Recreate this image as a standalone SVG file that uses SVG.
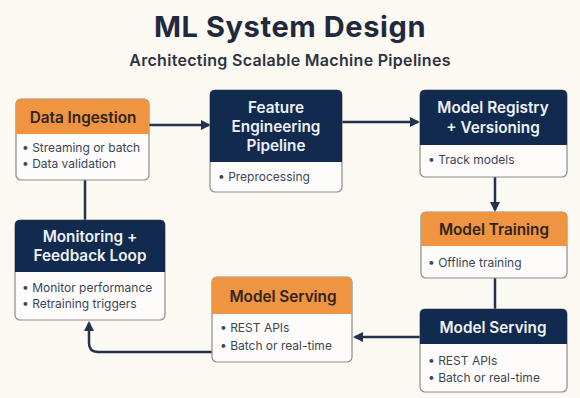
<svg xmlns="http://www.w3.org/2000/svg" width="580" height="398" viewBox="0 0 580 398">
  <style>
    .title { font-family: Inter, "Open Sans", "Liberation Sans", sans-serif; font-weight: 700; font-size: 29px; letter-spacing: 0.6px; fill: #1f2a3c; }
    .subtitle { font-family: Inter, "Open Sans", "Liberation Sans", sans-serif; font-weight: 600; font-size: 16px; letter-spacing: 0.3px; fill: #2e3440; }
    .card { fill: #fdfcfa; stroke: #8c8c8c; stroke-width: 1.2; }
    .hd-orange { fill: #ef9440; }
    .hd-navy { fill: #132a4f; }
    .ht-orange { font-family: Inter, "Open Sans", "Liberation Sans", sans-serif; font-weight: 600; font-size: 15.3px; fill: #2e2418; text-anchor: middle; }
    .ht-navy { font-family: Inter, "Open Sans", "Liberation Sans", sans-serif; font-weight: 600; font-size: 15.3px; fill: #eef2f7; text-anchor: middle; }
    .item { font-family: Inter, "Open Sans", "Liberation Sans", sans-serif; font-size: 12px; fill: #3b4656; }
    .link { fill: none; stroke: #23324d; stroke-width: 2.5; }
  </style>
  <defs>
    <marker id="arrow" viewBox="0 0 10 10" refX="8" refY="5" markerWidth="4" markerHeight="4" orient="auto">
      <path d="M0,0 L10,5 L0,10 z" fill="#23324d"/>
    </marker>
  </defs>

  <rect width="580" height="398" fill="#fcf8f2"/>

  <text class="title" x="290" y="37" text-anchor="middle">ML System Design</text>
  <text class="subtitle" x="290" y="66" text-anchor="middle">Architecting Scalable Machine Pipelines</text>

  <!-- connectors -->
  <g id="connectors">
    <line class="link" x1="149" y1="125" x2="209" y2="125" marker-end="url(#arrow)"/>
    <line class="link" x1="341" y1="122" x2="418" y2="122" marker-end="url(#arrow)"/>
    <line class="link" x1="495" y1="177" x2="495" y2="210" marker-end="url(#arrow)"/>
    <line class="link" x1="495" y1="278" x2="495" y2="309"/>
    <line class="link" x1="420" y1="337" x2="355" y2="337" marker-end="url(#arrow)"/>
    <path class="link" d="M212,352 L98,352 Q89,352 89,343 L89,323" marker-end="url(#arrow)"/>
    <line class="link" x1="85" y1="180" x2="85" y2="220"/>
  </g>

  <!-- Data Ingestion -->
  <g id="data-ingestion">
    <rect class="card" x="16" y="99" width="133" height="81" rx="5"/>
    <path class="hd-orange" d="M21,99 H144 Q149,99 149,104 V134 H16 V104 Q16,99 21,99 z"/>
    <text class="ht-orange" x="83" y="123">Data Ingestion</text>
    <text class="item" x="22" y="152" font-size="10.7">• Streaming or batch</text>
    <text class="item" x="22" y="168" font-size="10.7">• Data validation</text>
  </g>

  <!-- Feature Engineering Pipeline -->
  <g id="feature-engineering">
    <rect class="card" x="210" y="90" width="132" height="102" rx="5"/>
    <path class="hd-navy" d="M215,90 H337 Q342,90 342,95 V162 H210 V95 Q210,90 215,90 z"/>
    <text class="ht-navy" x="276" y="113" font-size="14.6">Feature</text>
    <text class="ht-navy" x="276" y="132" font-size="14.6">Engineering</text>
    <text class="ht-navy" x="276" y="151" font-size="14.6">Pipeline</text>
    <text class="item" x="218" y="181" font-size="10.7">• Preprocessing</text>
  </g>

  <!-- Model Registry + Versioning -->
  <g id="model-registry">
    <rect class="card" x="420" y="90" width="147" height="87" rx="5"/>
    <path class="hd-navy" d="M425,90 H562 Q567,90 567,95 V145 H420 V95 Q420,90 425,90 z"/>
    <text class="ht-navy" x="493" y="113" font-size="14.8">Model Registry</text>
    <text class="ht-navy" x="493" y="133" font-size="14.8">+ Versioning</text>
    <text class="item" x="428" y="164" font-size="12.5">• Track models</text>
  </g>

  <!-- Model Training -->
  <g id="model-training">
    <rect class="card" x="421" y="212" width="146" height="66" rx="5"/>
    <path class="hd-orange" d="M426,212 H562 Q567,212 567,217 V246 H421 V217 Q421,212 426,212 z"/>
    <text class="ht-orange" x="494" y="235">Model Training</text>
    <text class="item" x="428" y="267" font-size="12.5">• Offline training</text>
  </g>

  <!-- Model Serving (deployed) -->
  <g id="model-serving-deployed">
    <rect class="card" x="420" y="309" width="147" height="83" rx="5"/>
    <path class="hd-navy" d="M425,309 H562 Q567,309 567,314 V344 H420 V314 Q420,309 425,309 z"/>
    <text class="ht-navy" x="493" y="333">Model Serving</text>
    <text class="item" x="428" y="365">• REST APIs</text>
    <text class="item" x="428" y="382">• Batch or real-time</text>
  </g>

  <!-- Model Serving (staging) -->
  <g id="model-serving">
    <rect class="card" x="212" y="277" width="140" height="85" rx="5"/>
    <path class="hd-orange" d="M217,277 H347 Q352,277 352,282 V314 H212 V282 Q212,277 217,277 z"/>
    <text class="ht-orange" x="283" y="302">Model Serving</text>
    <text class="item" x="220" y="332">• REST APIs</text>
    <text class="item" x="220" y="350">• Batch or real-time</text>
  </g>

  <!-- Monitoring + Feedback Loop -->
  <g id="monitoring">
    <rect class="card" x="15" y="220" width="150" height="100" rx="5"/>
    <path class="hd-navy" d="M20,220 H160 Q165,220 165,225 V272 H15 V225 Q15,220 20,220 z"/>
    <text class="ht-navy" x="90" y="242" font-size="15.5">Monitoring +</text>
    <text class="ht-navy" x="90" y="261" font-size="15.5">Feedback Loop</text>
    <text class="item" x="22" y="292" font-size="12.3">• Monitor performance</text>
    <text class="item" x="22" y="308" font-size="12.3">• Retraining triggers</text>
  </g>
</svg>
